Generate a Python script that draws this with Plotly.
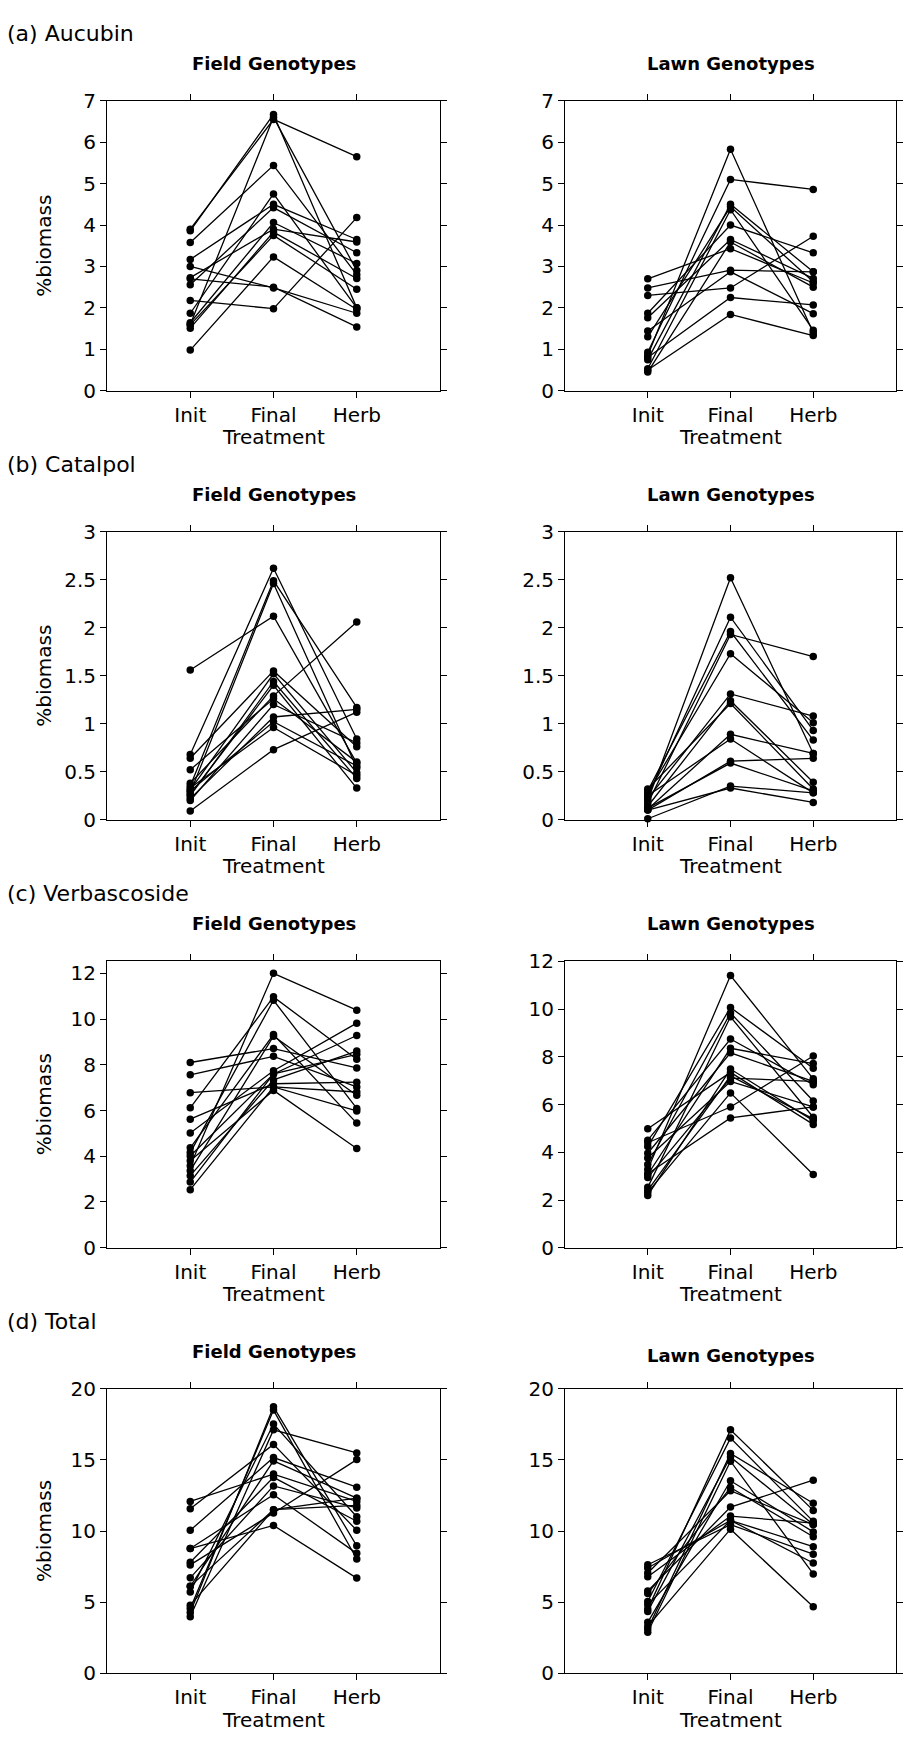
import plotly.graph_objects as go

W, H = 912, 1741

treatments = ["Init", "Final", "Herb"]

# (a) Aucubin
aucubin_field_init  = [3.90, 3.86, 1.60, 3.58, 3.17, 1.87, 2.56, 1.64, 2.73, 1.51, 1.59, 0.98, 3.00, 2.70, 2.18]
aucubin_field_final = [6.55, 6.67, 6.60, 5.44, 4.50, 4.75, 4.42, 4.06, 3.90, 3.83, 3.75, 3.23, 2.48, 2.50, 1.98]
aucubin_field_herb  = [5.65, 2.00, 2.90, 2.80, 3.65, 2.00, 3.33, 3.07, 3.59, 2.71, 2.45, 1.96, 1.87, 1.54, 4.18]

aucubin_lawn_init  = [0.85, 0.93, 0.75, 1.30, 0.53, 1.87, 1.76, 0.45, 2.70, 2.48, 1.44, 2.30, 0.80, 0.50]
aucubin_lawn_final = [5.83, 5.10, 4.50, 4.44, 4.37, 4.00, 3.65, 3.59, 3.43, 2.91, 2.87, 2.48, 2.25, 1.84]
aucubin_lawn_herb  = [1.40, 4.86, 2.87, 2.63, 1.46, 3.33, 2.71, 2.50, 2.60, 2.87, 1.86, 3.73, 2.07, 1.33]

# (b) Catalpol
catalpol_field_init  = [0.68, 0.35, 0.28, 1.56, 0.64, 0.31, 0.25, 0.38, 0.52, 0.20, 0.22, 0.30, 0.33, 0.09, 0.26]
catalpol_field_final = [2.62, 2.49, 2.46, 2.12, 1.55, 1.52, 1.44, 1.29, 1.26, 1.20, 1.07, 1.02, 0.96, 0.73, 1.40]
catalpol_field_herb  = [0.84, 1.17, 0.54, 0.59, 0.76, 0.49, 0.43, 2.06, 0.60, 0.80, 1.15, 0.56, 0.46, 1.12, 0.33]

catalpol_lawn_init  = [0.20, 0.25, 0.30, 0.17, 0.28, 0.22, 0.14, 0.32, 0.11, 0.25, 0.10, 0.12, 0.01, 0.10]
catalpol_lawn_final = [2.52, 2.11, 1.96, 1.93, 1.73, 1.31, 1.24, 1.21, 0.89, 0.84, 0.61, 0.59, 0.35, 0.33]
catalpol_lawn_herb  = [0.69, 0.93, 0.83, 1.70, 1.01, 1.08, 0.39, 0.32, 0.69, 0.28, 0.64, 0.30, 0.28, 0.18]

# (c) Verbascoside
verbas_field_init  = [3.58, 6.12, 4.16, 4.37, 3.37, 8.10, 7.56, 5.02, 4.01, 3.15, 6.78, 5.62, 2.87, 3.80, 2.54]
verbas_field_final = [12.0, 10.97, 10.82, 9.32, 9.25, 8.71, 8.37, 7.74, 7.60, 7.34, 7.03, 7.17, 7.60, 6.88, 7.03]
verbas_field_herb  = [10.39, 8.24, 6.09, 5.45, 6.67, 7.86, 7.03, 9.82, 9.28, 8.60, 6.81, 7.24, 8.46, 4.34, 5.98]

verbas_lawn_init  = [3.28, 4.24, 3.49, 2.53, 4.51, 3.07, 3.96, 2.19, 4.99, 2.94, 3.76, 2.32, 4.40, 3.10, 2.40]
verbas_lawn_final = [11.41, 10.07, 9.84, 9.68, 8.75, 8.36, 8.17, 7.49, 7.35, 7.11, 6.97, 6.49, 5.90, 5.44, 7.20]
verbas_lawn_herb  = [7.08, 7.52, 6.15, 5.47, 6.83, 7.72, 6.97, 5.33, 5.17, 6.97, 5.90, 3.07, 8.04, 5.90, 5.40]

# (d) Total
total_field_init  = [4.28, 4.56, 5.72, 3.98, 11.57, 10.05, 6.11, 12.08, 7.80, 6.71, 8.77, 4.79, 7.62, 8.77, 6.11]
total_field_final = [18.73, 18.50, 17.52, 17.11, 16.09, 15.16, 14.93, 14.00, 13.77, 13.17, 12.55, 11.50, 11.27, 10.39, 11.50]
total_field_herb  = [8.96, 8.03, 11.00, 15.49, 10.05, 13.08, 12.31, 12.08, 10.69, 11.62, 8.43, 12.31, 15.02, 6.69, 11.80]

total_lawn_init  = [4.51, 5.04, 3.12, 4.35, 2.89, 3.58, 5.60, 7.05, 5.78, 6.78, 7.40, 7.63, 4.81, 3.30]
total_lawn_final = [17.11, 16.53, 15.45, 15.21, 14.91, 13.53, 13.06, 12.83, 11.68, 11.05, 10.75, 10.45, 10.75, 10.13]
total_lawn_herb  = [11.45, 10.68, 11.95, 10.45, 6.98, 9.94, 9.60, 10.45, 13.57, 10.55, 8.90, 8.37, 7.75, 4.67]

section_labels = ["(a) Aucubin", "(b) Catalpol", "(c) Verbascoside", "(d) Total"]
panel_titles = ["Field Genotypes", "Lawn Genotypes"]
y_title = "%biomass"
x_title = "Treatment"

panels = [
    # row, col, init, final, herb, yrange, dtick
    (0, 0, aucubin_field_init, aucubin_field_final, aucubin_field_herb, [0, 7], 1),
    (0, 1, aucubin_lawn_init, aucubin_lawn_final, aucubin_lawn_herb, [0, 7], 1),
    (1, 0, catalpol_field_init, catalpol_field_final, catalpol_field_herb, [0, 3], 0.5),
    (1, 1, catalpol_lawn_init, catalpol_lawn_final, catalpol_lawn_herb, [0, 3], 0.5),
    (2, 0, verbas_field_init, verbas_field_final, verbas_field_herb, [0, 12.55], 2),
    (2, 1, verbas_lawn_init, verbas_lawn_final, verbas_lawn_herb, [0, 12.03], 2),
    (3, 0, total_field_init, total_field_final, total_field_herb, [0, 20], 5),
    (3, 1, total_lawn_init, total_lawn_final, total_lawn_herb, [0, 20], 5),
]

# layout geometry (pixels)
col_px = [(107, 440), (565, 896)]
row_px = [(90, 384), (527, 819), (962, 1253), (1396, 1684.5)]

FONT = "DejaVu Sans"
TICK = 20
fig = go.Figure()
layout = dict(
    width=W, height=H, margin=dict(l=0, r=0, t=0, b=0),
    paper_bgcolor="white", plot_bgcolor="white", showlegend=False,
    font=dict(family=FONT, color="black", size=TICK),
)

def px_x(p):
    return p / W

def px_y(p):
    return 1 - p / H

annotations = []
for k, (r, c, ini, fin, her, yr, dt) in enumerate(panels):
    idx = k + 1
    xa = "x" if idx == 1 else f"x{idx}"
    ya = "y" if idx == 1 else f"y{idx}"
    for a, b, h in zip(ini, fin, her):
        fig.add_trace(go.Scatter(
            x=treatments, y=[a, b, h], xaxis=xa, yaxis=ya,
            mode="lines+markers",
            line=dict(color="black", width=1.3),
            marker=dict(color="black", size=7.5),
            hoverinfo="skip", cliponaxis=False,
        ))
    x0, x1 = col_px[c]
    top, bot = row_px[r]
    layout["xaxis" if idx == 1 else f"xaxis{idx}"] = dict(
        domain=[px_x(x0), px_x(x1)], anchor=ya, type="category",
        categoryorder="array", categoryarray=treatments,
        range=[-1, 3], showline=True, linecolor="black", linewidth=1,
        mirror="ticks", ticks="outside", ticklen=6, tickcolor="black",
        showgrid=False, zeroline=False, tickfont=dict(size=TICK, family=FONT),
    )
    layout["yaxis" if idx == 1 else f"yaxis{idx}"] = dict(
        domain=[px_y(bot), px_y(top)], anchor=xa, range=yr, dtick=dt, tick0=0,
        showline=True, linecolor="black", linewidth=1,
        mirror="ticks", ticks="outside", ticklen=6, tickcolor="black",
        showgrid=False, zeroline=False, tickfont=dict(size=TICK, family=FONT),
    )
    # panel title
    tshift = 4 if (r == 3 and c == 1) else 0
    annotations.append(dict(
        text=f"<b>{panel_titles[c]}</b>", x=px_x((x0 + x1) / 2), y=px_y(top - 38 + tshift),
        xref="paper", yref="paper", xanchor="center", yanchor="middle",
        showarrow=False, font=dict(size=18, family=FONT, color="black"),
    ))
    # x title
    off = 47
    annotations.append(dict(
        text=x_title, x=px_x((x0 + x1) / 2), y=px_y(bot + off),
        xref="paper", yref="paper", xanchor="center", yanchor="middle",
        showarrow=False, font=dict(size=TICK, family=FONT, color="black"),
    ))
    if c == 0:
        annotations.append(dict(
            text=y_title, x=px_x(44), y=px_y((top + bot) / 2), textangle=-90,
            xref="paper", yref="paper", xanchor="center", yanchor="middle",
            showarrow=False, font=dict(size=TICK, family=FONT, color="black"),
        ))

for r, lab in enumerate(section_labels):
    top = row_px[r][0]
    annotations.append(dict(
        text=lab, x=px_x(5), y=px_y(top - 68),
        xref="paper", yref="paper", xanchor="left", yanchor="middle",
        showarrow=False, font=dict(size=22, family=FONT, color="black"),
    ))

layout["annotations"] = annotations
fig.update_layout(**layout)
fig.write_html("out.html")
